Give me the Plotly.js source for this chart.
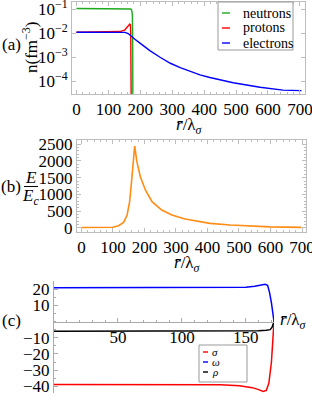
<!DOCTYPE html>
<html>
<head>
<meta charset="utf-8">
<script src="https://cdn.plot.ly/plotly-3.0.1.min.js"></script>
<style>html,body{margin:0;padding:0;background:#fff;}#chart{width:312px;height:397px;}</style>
</head>
<body>
<div id="chart"></div>
<script>
// ---------- data ----------
// panel (a): number densities n (fm^-3) vs r/lambda_sigma
const seriesNamesA = ['neutrons', 'protons', 'electrons'];
const rNeutrons = [0, 100, 160, 170, 173, 175, 176, 177];
const nNeutrons = [0.105, 0.105, 0.104, 0.1, 0.09, 0.06, 0.01, 1e-6];
const rProtons = [0, 100, 120, 135, 151, 162, 167, 169, 170, 171, 172];
const nProtons = [0.0107, 0.0107, 0.0108, 0.0115, 0.0133, 0.0195, 0.0237, 0.022, 0.01, 1e-4, 1e-6];
const rElectrons = [0, 100, 140, 152, 162, 172, 183, 200, 231, 262, 294, 325, 356, 387, 418, 491, 575, 647, 705];
const nElectrons = [0.0107, 0.0107, 0.0107, 0.0106, 0.0095, 0.0070, 0.0055, 0.0037, 0.0018, 9.8e-4, 5.5e-4, 3.6e-4, 2.5e-4, 1.8e-4, 1.4e-4, 8.5e-5, 5.5e-5, 4.2e-5, 4.0e-5];
const xTicksA = [0, 100, 200, 300, 400, 500, 600, 700];
const yTicksA = [1e-4, 1e-3, 1e-2, 1e-1];
const yTickTextA = ['10<sup>\u22124</sup>', '10<sup>\u22123</sup>', '10<sup>\u22122</sup>', '10<sup>\u22121</sup>'];

// panel (b): electric field E/E_c
const rField = [0, 50, 100, 118, 134, 145, 153, 160, 166, 169, 176, 187, 203, 224, 255, 287, 329, 361, 408, 472, 535, 598, 698];
const eField = [5, 5, 15, 60, 160, 380, 780, 1480, 2080, 2450, 1980, 1530, 1130, 780, 530, 380, 260, 200, 130, 80, 50, 25, 10];
const xTicksB = [0, 100, 200, 300, 400, 500, 600, 700];
const yTicksB = [0, 500, 1000, 1500, 2000, 2500];

// panel (c): meson fields
const seriesNamesC = ['\u03c3', '\u03c9', '\u03c1'];
const rSigma = [0, 100, 130, 145, 155, 160, 163.5, 166, 168, 170, 171, 172];
const vSigma = [-38.8, -38.8, -39.0, -39.6, -40.8, -42, -43.1, -42.5, -38, -25, -12, 0];
const rOmega = [0, 100, 140, 150, 157, 162, 165, 167, 168.5, 170, 171, 172];
const vOmega = [20.8, 20.8, 20.9, 21.2, 21.8, 22.6, 23, 22.3, 18, 11.5, 4, 0];
const rRho = [0, 100, 150, 160, 166, 169, 170.5, 171.5, 172];
const vRho = [-6.0, -6.0, -5.9, -5.7, -5.4, -5.0, -3.5, -1.5, 0];
const xTicksC = [50, 100, 150];
const yTicksC = [-40, -30, -20, -10, 10, 20];

// ---------- styling / layout helpers ----------
const W = 312, H = 397;
const FONT = 'Liberation Serif';
const px = v => v / W;           // x pixel -> paper
const py = v => 1 - v / H;       // y pixel -> paper
const colorsA = ['rgb(30,170,30)', 'rgb(255,0,0)', 'rgb(0,0,255)'];
const colorsC = ['rgb(255,0,0)', 'rgb(0,0,255)', 'rgb(0,0,0)'];
const FRAME = '#bdbdbd';
const FS = 17;
const tickFont = {family: FONT, size: FS, color: '#000'};

const traces = [
  {x: rNeutrons, y: nNeutrons, name: seriesNamesA[0], xaxis: 'x', yaxis: 'y', mode: 'lines', line: {color: colorsA[0], width: 1.4}},
  {x: rProtons, y: nProtons, name: seriesNamesA[1], xaxis: 'x', yaxis: 'y', mode: 'lines', line: {color: colorsA[1], width: 1.4}},
  {x: rElectrons, y: nElectrons, name: seriesNamesA[2], xaxis: 'x', yaxis: 'y', mode: 'lines', line: {color: colorsA[2], width: 1.4}},
  {x: rField, y: eField, name: 'E/Ec', xaxis: 'x2', yaxis: 'y2', mode: 'lines', line: {color: 'rgb(255,140,20)', width: 1.6}},
  {x: rSigma, y: vSigma, name: seriesNamesC[0], xaxis: 'x3', yaxis: 'y3', mode: 'lines', line: {color: colorsC[0], width: 1.5}},
  {x: rOmega, y: vOmega, name: seriesNamesC[1], xaxis: 'x3', yaxis: 'y3', mode: 'lines', line: {color: colorsC[1], width: 1.5}},
  {x: rRho, y: vRho, name: seriesNamesC[2], xaxis: 'x3', yaxis: 'y3', mode: 'lines', line: {color: colorsC[2], width: 1.5}}
].map(t => Object.assign(t, {showlegend: false, hoverinfo: 'skip'}));

const framedAxis = (extra) => Object.assign({
  showline: true, linecolor: FRAME, linewidth: 1, mirror: 'ticks',
  ticks: 'inside', ticklen: 4, tickcolor: FRAME, tickwidth: 1, ticklabeloverflow: 'allow',
  showgrid: false, zeroline: false, tickfont: tickFont, fixedrange: true
}, extra);

const annotations = [];
const shapes = [];
const ann = (x, y, text, opts) => annotations.push(Object.assign({
  xref: 'paper', yref: 'paper', x: px(x), y: py(y), text: text, showarrow: false,
  font: {family: FONT, size: FS, color: '#000'}, xanchor: 'center', yanchor: 'middle'
}, opts || {}));

// panel labels and axis titles
const rTitle = '<i>r\u0304</i>/\u03bb<sub><i>\u03c3</i></sub>';
ann(11, 44, '(a)');
ann(30, 48, 'n(fm<sup>\u22123</sup>)', {textangle: -90});
ann(190, 126, rTitle);
ann(11, 186, '(b)');
ann(31, 177, '<i>E</i>');
ann(31, 197, '<i>E</i><sub><i>c</i></sub>');
shapes.push({type: 'line', xref: 'paper', yref: 'paper', x0: px(24), x1: px(38), y0: py(186.5), y1: py(186.5), line: {color: '#000', width: 1}});
ann(187, 264, rTitle);
ann(11, 320, '(c)');
ann(293, 321, rTitle);

// legend (a)
shapes.push({type: 'rect', xref: 'paper', yref: 'paper', x0: px(218), x1: px(293), y0: py(2), y1: py(50), line: {color: '#999', width: 1}, fillcolor: '#fff'});
seriesNamesA.forEach((nm, i) => {
  const yy = 13 + i * 15;
  shapes.push({type: 'line', xref: 'paper', yref: 'paper', x0: px(222), x1: px(230), y0: py(yy), y1: py(yy), line: {color: colorsA[i], width: 1.4}});
  ann(241, yy, nm, {xanchor: 'left', font: {family: FONT, size: 14, color: '#000'}});
});
// legend (c)
shapes.push({type: 'rect', xref: 'paper', yref: 'paper', x0: px(199), x1: px(247), y0: py(345), y1: py(382), line: {color: '#999', width: 1}, fillcolor: '#fff'});
seriesNamesC.forEach((nm, i) => {
  const yy = 352 + i * 10;
  shapes.push({type: 'line', xref: 'paper', yref: 'paper', x0: px(203), x1: px(208), y0: py(yy), y1: py(yy), line: {color: colorsC[i], width: 1.4}});
  ann(211, yy, '<i>' + nm + '</i>', {xanchor: 'left', font: {family: FONT, size: 11, color: '#000'}, borderpad: 0});
});

const layout = {
  width: W, height: H, margin: {l: 0, r: 0, t: 0, b: 0},
  paper_bgcolor: '#fff', plot_bgcolor: '#fff', showlegend: false,
  font: {family: FONT, color: '#000'},
  xaxis: framedAxis({domain: [px(72), px(305)], range: [-14, 716], anchor: 'y', tickvals: xTicksA,
    minor: {dtick: 20, ticklen: 2, tickcolor: FRAME, ticks: 'inside'}}),
  yaxis: framedAxis({domain: [py(94), py(2)], type: 'log', range: [-4.54, -0.708], anchor: 'x',
    tickvals: yTicksA, ticktext: yTickTextA}),
  xaxis2: framedAxis({domain: [px(77), px(306)], range: [-14, 712.7], anchor: 'y2', tickvals: xTicksB,
    minor: {dtick: 20, ticklen: 2, tickcolor: FRAME, ticks: 'inside'}}),
  yaxis2: framedAxis({domain: [py(232), py(140)], range: [-129, 2629], anchor: 'x2', tickvals: yTicksB,
    minor: {dtick: 100, ticklen: 2, tickcolor: FRAME, ticks: 'inside'}}),
  xaxis3: {domain: [px(54), px(274)], range: [0, 172], anchor: 'free', position: py(322), side: 'bottom',
    showline: true, linecolor: '#aaa', linewidth: 1, ticks: 'inside', ticklen: 4, tickcolor: '#aaa',
    tickvals: xTicksC, minor: {dtick: 10, ticklen: 2, tickcolor: '#aaa', ticks: 'inside'},
    showgrid: false, zeroline: false, tickfont: tickFont, fixedrange: true, ticklabeloverflow: 'allow'},
  yaxis3: {domain: [py(393), py(281)], range: [-44.1, 25], anchor: 'x3',
    showline: true, linecolor: '#aaa', linewidth: 1, ticks: 'inside', ticklen: 4, tickcolor: '#aaa',
    tickvals: yTicksC, minor: {dtick: 5, ticklen: 2, tickcolor: '#aaa', ticks: 'inside'},
    showgrid: false, zeroline: false, tickfont: tickFont, fixedrange: true, ticklabeloverflow: 'allow'},
  annotations: annotations,
  shapes: shapes
};

Plotly.newPlot('chart', traces, layout, {staticPlot: true, displayModeBar: false});
</script>
</body>
</html>
